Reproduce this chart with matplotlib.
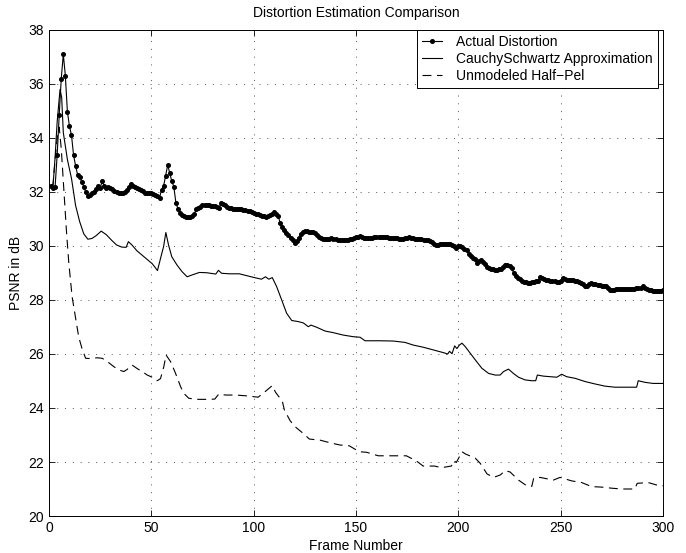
import numpy as np
import matplotlib
matplotlib.use("Agg")
import matplotlib.pyplot as plt

plt.rcParams['font.family'] = ['Liberation Sans', 'DejaVu Sans']

# Actual distortion, one value per frame (frames 1..300)
actual_psnr = [
    32.23, 32.15, 32.20, 33.37, 34.85, 36.20, 37.10, 36.30, 34.97, 34.44,
    34.10, 33.37, 32.97, 32.63, 32.57, 32.36, 32.20, 31.99, 31.85, 31.90,
    31.95, 32.00, 32.11, 32.23, 32.15, 32.40, 32.23, 32.15, 32.20, 32.15,
    32.11, 32.04, 31.99, 31.95, 31.96, 31.97, 32.00, 32.08, 32.20, 32.28,
    32.24, 32.20, 32.15, 32.10, 32.07, 32.02, 31.98, 31.96, 31.97, 31.95,
    31.92, 31.88, 31.84, 31.77, 32.09, 32.23, 32.60, 33.00, 32.70, 32.40,
    32.20, 31.60, 31.38, 31.21, 31.15, 31.10, 31.06, 31.06, 31.08, 31.12,
    31.20, 31.36, 31.42, 31.46, 31.52, 31.52, 31.52, 31.50, 31.49, 31.48,
    31.47, 31.46, 31.40, 31.58, 31.54, 31.50, 31.46, 31.42, 31.40, 31.38,
    31.38, 31.38, 31.38, 31.37, 31.35, 31.33, 31.31, 31.28, 31.25, 31.22,
    31.20, 31.18, 31.15, 31.12, 31.10, 31.09, 31.12, 31.15, 31.20, 31.25,
    31.18, 31.10, 30.85, 30.72, 30.59, 30.48, 30.40, 30.30, 30.22, 30.12,
    30.18, 30.28, 30.45, 30.52, 30.57, 30.55, 30.53, 30.52, 30.50, 30.47,
    30.42, 30.35, 30.30, 30.27, 30.25, 30.26, 30.27, 30.28, 30.26, 30.25,
    30.24, 30.23, 30.22, 30.22, 30.23, 30.24, 30.25, 30.27, 30.30, 30.32,
    30.35, 30.37, 30.33, 30.30, 30.28, 30.29, 30.30, 30.31, 30.32, 30.32,
    30.32, 30.32, 30.32, 30.32, 30.32, 30.31, 30.30, 30.29, 30.28, 30.28,
    30.27, 30.26, 30.25, 30.28, 30.31, 30.33, 30.31, 30.28, 30.27, 30.26,
    30.25, 30.25, 30.24, 30.23, 30.22, 30.20, 30.15, 30.08, 30.03, 30.05,
    30.07, 30.09, 30.08, 30.07, 30.07, 30.06, 30.04, 30.00, 29.94, 30.00,
    29.99, 29.98, 29.90, 29.85, 29.72, 29.63, 29.56, 29.50, 29.38, 29.45,
    29.48, 29.40, 29.33, 29.22, 29.18, 29.15, 29.13, 29.11, 29.12, 29.13,
    29.14, 29.22, 29.30, 29.28, 29.27, 29.20, 29.00, 28.90, 28.80, 28.76,
    28.72, 28.68, 28.65, 28.62, 28.64, 28.67, 28.68, 28.70, 28.72, 28.86,
    28.80, 28.77, 28.75, 28.73, 28.71, 28.70, 28.69, 28.68, 28.67, 28.72,
    28.80, 28.78, 28.75, 28.74, 28.73, 28.73, 28.72, 28.70, 28.66, 28.62,
    28.58, 28.52, 28.50, 28.58, 28.62, 28.60, 28.58, 28.57, 28.55, 28.53,
    28.51, 28.50, 28.45, 28.38, 28.37, 28.38, 28.39, 28.40, 28.40, 28.40,
    28.41, 28.41, 28.41, 28.42, 28.42, 28.42, 28.43, 28.43, 28.46, 28.50,
    28.45, 28.40, 28.38, 28.37, 28.35, 28.34, 28.33, 28.32, 28.32, 28.38,
]
actual_frames = np.arange(1, len(actual_psnr) + 1)

# Cauchy-Schwartz approximation (frame, PSNR) read at the corners of the curve
cs_frames = [1, 2, 3, 4, 5.4, 6.2, 7, 9, 11, 13, 15, 17, 19, 21, 23, 25.5, 28,
             30.5, 33, 35.5, 37.7, 38.8, 40.5, 43, 45.5, 48, 50.5, 53, 54.5, 56,
             57.1, 58.4, 60, 62.5, 65, 67.5, 70, 73.5, 77, 81.5, 82.8, 84.3, 88,
             93, 99.8, 103.8, 105.8, 107.4, 109.1, 111.2, 113.7, 116.1, 118.6,
             121.8, 124.3, 126.7, 128, 130.8, 134.9, 138.9, 143.8, 148.7, 152,
             154.4, 161.7, 168.2, 173.9, 178, 182.9, 187.8, 192.7, 194.8, 195.7,
             196.9, 198.2, 199.3, 200.5, 201.8, 203.4, 205.8, 208.3, 211.5,
             214.8, 218, 220.4, 222.1, 224.5, 226.9, 229.4, 232.6, 235.9, 237.8,
             238.6, 241.6, 244.8, 248.1, 250.5, 252.9, 257, 261.9, 266.8, 271.6,
             276.5, 283, 287.1, 287.9, 291.2, 295.2, 300]
cs_psnr = [32.2, 32.25, 33.3, 34.6, 35.8, 35.5, 34.2, 33.2, 32.5, 31.5, 30.9,
           30.45, 30.25, 30.28, 30.38, 30.55, 30.42, 30.22, 30.04, 29.96, 29.95,
           30.16, 30.04, 29.82, 29.66, 29.5, 29.34, 29.09, 29.54, 29.98, 30.5,
           30.04, 29.6, 29.3, 29.05, 28.86, 28.93, 29.02, 29.01, 28.96, 29.1,
           28.99, 28.97, 28.97, 28.84, 28.77, 28.86, 28.77, 28.83, 28.5, 28.0,
           27.51, 27.24, 27.2, 27.15, 27.01, 27.07, 26.99, 26.85, 26.79, 26.7,
           26.64, 26.62, 26.49, 26.49, 26.48, 26.43, 26.33, 26.25, 26.15, 26.05,
           26.0, 26.1, 26.01, 26.3, 26.2, 26.33, 26.4, 26.27, 26.03, 25.78,
           25.47, 25.28, 25.22, 25.22, 25.35, 25.44, 25.28, 25.14, 25.04, 25.01,
           25.01, 25.22, 25.18, 25.16, 25.14, 25.25, 25.16, 25.1, 24.98, 24.89,
           24.81, 24.77, 24.77, 24.77, 25.01, 24.95, 24.91, 24.91]

# Unmodeled half-pel
hp_frames = [1, 2, 3, 4, 5, 6, 7, 8, 8.6, 9.7, 11.3, 12.9, 14.5, 16.1, 17.9,
             20.3, 23.6, 26, 28.5, 31.7, 34.1, 36.6, 38.2, 40.6, 43.1, 45.5, 48,
             50.4, 52.9, 54.5, 56.1, 57.2, 59.4, 61.8, 64.3, 65.9, 68.3, 72.4,
             78.1, 81, 83, 86.2, 91.1, 96.5, 102.2, 105.5, 109.1, 110.7, 114,
             115, 117.8, 120.2, 124.2, 127.2, 132.4, 136.9, 142.1, 146.7, 151.6,
             155.2, 160.9, 174.6, 179.5, 182.8, 188.4, 191.7, 196.6, 197.9, 199,
             201.8, 203.4, 208.3, 210.7, 214, 217.2, 220.5, 222.9, 225.3, 229.4,
             233.4, 235.9, 236.8, 238.3, 239.9, 246.4, 249.7, 255.4, 260.2,
             265.1, 270, 274.9, 279.7, 286.2, 287.4, 292.7, 296.8, 300]
hp_psnr = [32.2, 32.3, 33.2, 34.0, 34.4, 33.6, 32.4, 31.2, 30.48, 29.36, 28.12,
           27.38, 26.64, 26.21, 25.84, 25.83, 25.86, 25.84, 25.72, 25.53, 25.41,
           25.35, 25.43, 25.59, 25.46, 25.35, 25.22, 25.14, 25.01, 25.09, 25.53,
           25.96, 25.72, 25.29, 24.79, 24.54, 24.36, 24.32, 24.32, 24.33, 24.52,
           24.48, 24.48, 24.45, 24.4, 24.6, 24.83, 24.58, 24.25, 23.93, 23.53,
           23.31, 23.06, 22.85, 22.81, 22.72, 22.63, 22.6, 22.38, 22.36, 22.23,
           22.23, 22.04, 21.85, 21.85, 21.79, 21.85, 22.05, 21.98, 22.38, 22.3,
           22.14, 21.95, 21.56, 21.43, 21.52, 21.68, 21.63, 21.33, 21.12, 21.1,
           21.4, 21.4, 21.43, 21.33, 21.43, 21.3, 21.24, 21.09, 21.07, 21.03,
           21.0, 21.0, 21.21, 21.24, 21.15, 21.12]

fig = plt.figure(figsize=(6.86, 5.53), dpi=100)
ax = fig.add_axes([0.0714, 0.0669, 0.8951, 0.8789])

ax.plot(actual_frames, actual_psnr, color='black', linewidth=0.8,
        marker='o', markersize=2.6, label='Actual Distortion')
ax.plot(cs_frames, cs_psnr, color='black', linewidth=0.8,
        label='CauchySchwartz Approximation')
ax.plot(hp_frames, hp_psnr, color='black', linewidth=0.8,
        dashes=(8, 5), label='Unmodeled Half\u2212Pel')

ax.set_xlim(0, 300)
ax.set_ylim(20, 38)
ax.set_xticks(np.arange(0, 301, 50))
ax.set_yticks(np.arange(20, 39, 2))
ax.tick_params(direction='in', length=4, labelsize=10, width=0.6,
               top=True, right=True, labeltop=False, labelright=False)
ax.grid(True, linestyle=(0, (1, 7)), color='#555555', linewidth=0.7)
for s in ax.spines.values():
    s.set_linewidth(0.7)

ax.set_xlabel('Frame Number', fontsize=10, labelpad=3)
ax.set_ylabel('PSNR in dB', fontsize=10, labelpad=4)
ax.set_title('Distortion Estimation Comparison', fontsize=10, pad=9)

leg = ax.legend(loc='upper right', bbox_to_anchor=(0.9915, 1.0), fontsize=10,
                fancybox=False, framealpha=1, edgecolor='black',
                handlelength=1.5, borderaxespad=0, labelspacing=0.22,
                borderpad=0.35, handletextpad=1.0)
leg.get_frame().set_linewidth(0.7)

fig.savefig('out.png', dpi=100)
